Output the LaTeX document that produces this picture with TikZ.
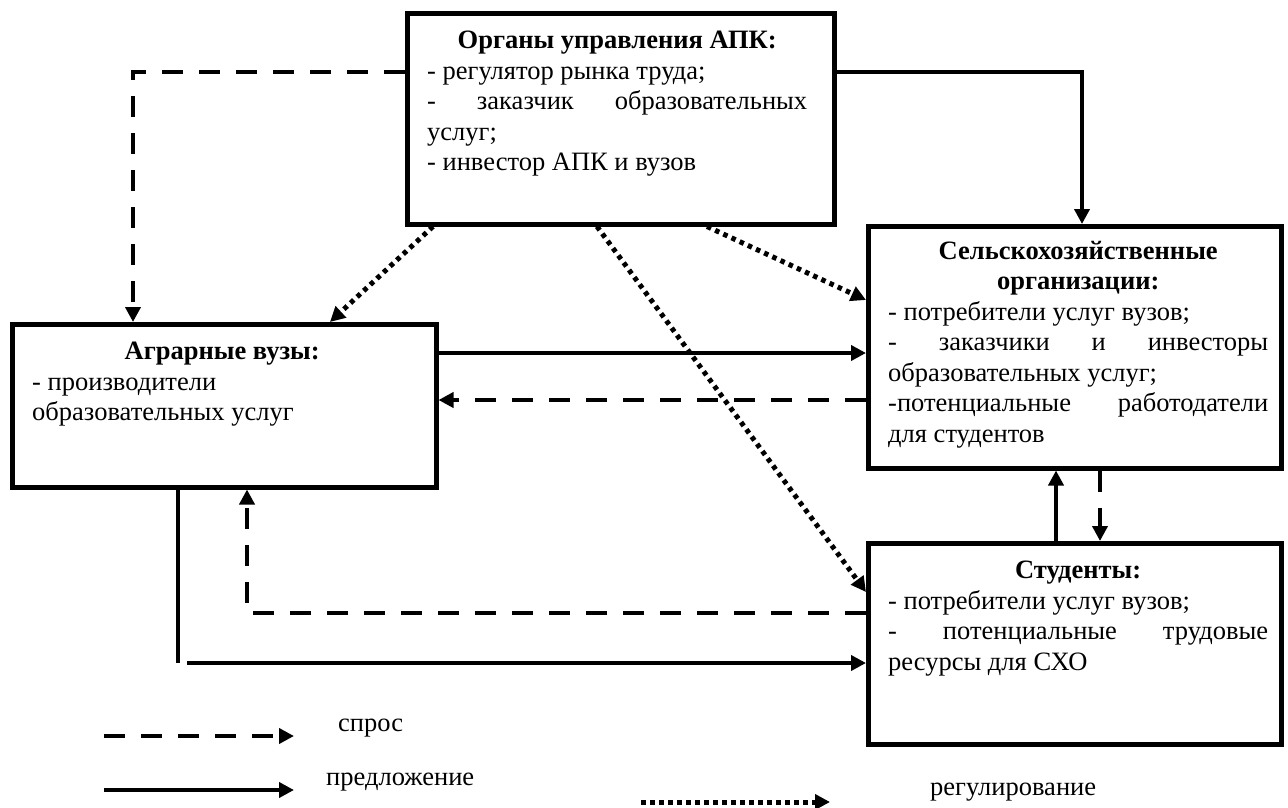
\documentclass[tikz,border=0pt]{standalone}
\usepackage{fontspec}
\setmainfont{Liberation Serif}
\usetikzlibrary{arrows.meta,calc}
\setlength{\parindent}{0pt}
\hyphenpenalty=10000
\exhyphenpenalty=10000

\begin{document}
\begin{tikzpicture}[x=1pt, y=-1pt,
		box/.style={draw, line width=4.5pt, rectangle, inner sep=0pt, anchor=north west},
		txt/.style={anchor=north west, inner sep=0pt, text width=380pt, align=justify,
			font=\fontsize{26.5}{30.5}\selectfont},
		legtxt/.style={anchor=west, inner sep=0pt, font=\fontsize{26.5}{30.5}\selectfont},
		spros/.style={line width=4.5pt, dash pattern=on 21pt off 16pt, -{Triangle[length=15pt,width=15pt]}},
		predl/.style={line width=4.5pt, -{Triangle[length=15pt,width=15pt]}},
		reg/.style={line width=5pt, dash pattern=on 4.5pt off 4.5pt, -{Triangle[length=15pt,width=15pt]}}]
	\useasboundingbox (0,0) rectangle (1288,807);
	% boxes
	\node[box, minimum width=427pt, minimum height=211pt] (org) at (405,11) {};
	\node[box, minimum width=424pt, minimum height=163pt] (vuz) at (10,322) {};
	\node[box, minimum width=413pt, minimum height=242pt] (sxo) at (866,224) {};
	\node[box, minimum width=413pt, minimum height=201pt] (stud) at (866,541) {};
	% texts
	\node[txt] (orgT) at ($(org.north west)+(22,20)$) {{\centering\bfseries Органы управления АПК:\par}
		- регулятор рынка труда;\par
		- заказчик образовательных\linebreak услуг;\par
		- инвестор АПК и вузов};
	\node[txt] (vuzT) at ($(vuz.north west)+(22,20)$) {{\centering\bfseries Аграрные вузы:\par}
		- производители\\образовательных услуг};
	\node[txt] (sxoT) at ($(sxo.north west)+(22,17)$) {{\centering\bfseries Сельскохозяйственные\\организации:\par}
		- потребители услуг вузов;\par
		- заказчики и инвесторы\linebreak образовательных услуг;\par
		-потенциальные работодатели\linebreak для студентов};
	\node[txt] (studT) at ($(stud.north west)+(22,20)$) {{\centering\bfseries Студенты:\par}
		- потребители услуг вузов;\par
		- потенциальные трудовые\linebreak ресурсы для СХО};
	% spros
	\draw[spros] ([yshift=-61pt]org.north west) -| ([xshift=123pt]vuz.north west);
	\draw[spros] ([yshift=-176pt]sxo.north west) -- ([yshift=-176pt]sxo.north west -| vuz.east);
	\draw[spros] ([xshift=234pt]sxo.south west) -- ([xshift=234pt]sxo.south west |- stud.north);
	\draw[spros] ([yshift=-72pt]stud.north west) -| ([xshift=237pt]vuz.south west);
	% predlozhenie
	\draw[predl] ([yshift=-61pt]org.north east) -| ([xshift=216pt]sxo.north west);
	\draw[predl] ([yshift=-31pt]vuz.north east) -- ([yshift=-31pt]vuz.north east -| sxo.west);
	\draw[predl] ([xshift=190pt]stud.north west) -- ([xshift=190pt]stud.north west |- sxo.south);
	\coordinate (vb) at ([xshift=168pt]vuz.south west);
	\coordinate (sw) at ([yshift=-122pt]stud.north west);
	\coordinate (knee) at (vb |- sw);
	\draw[line width=4.5pt] (vb) -- (knee);
	\draw[predl] ([xshift=9pt]knee) -- (sw);
	% regulirovanie
	\draw[reg] ([xshift=28pt]org.south west) -- ([xshift=320pt]vuz.north west);
	\draw[reg] ([xshift=192pt]org.south west) -- ([yshift=-51pt]stud.north west);
	\draw[reg] ([xshift=302pt]org.south west) -- ([yshift=-76pt]sxo.north west);
	% legend
	\coordinate (l1a) at (104,736); \coordinate (l1b) at (294,736);
	\coordinate (l2a) at (104,790); \coordinate (l2b) at (294,790);
	\coordinate (l3a) at (641,802); \coordinate (l3b) at (830,802);
	\draw[spros] (l1a) -- (l1b);
	\draw[predl] (l2a) -- (l2b);
	\draw[reg] (l3a) -- (l3b);
	\node[legtxt] (l1t) at (338,728) {спрос};
	\node[legtxt] (l2t) at (326,782) {предложение};
	\node[legtxt] (l3t) at (930,792) {регулирование};
\end{tikzpicture}
\end{document}
